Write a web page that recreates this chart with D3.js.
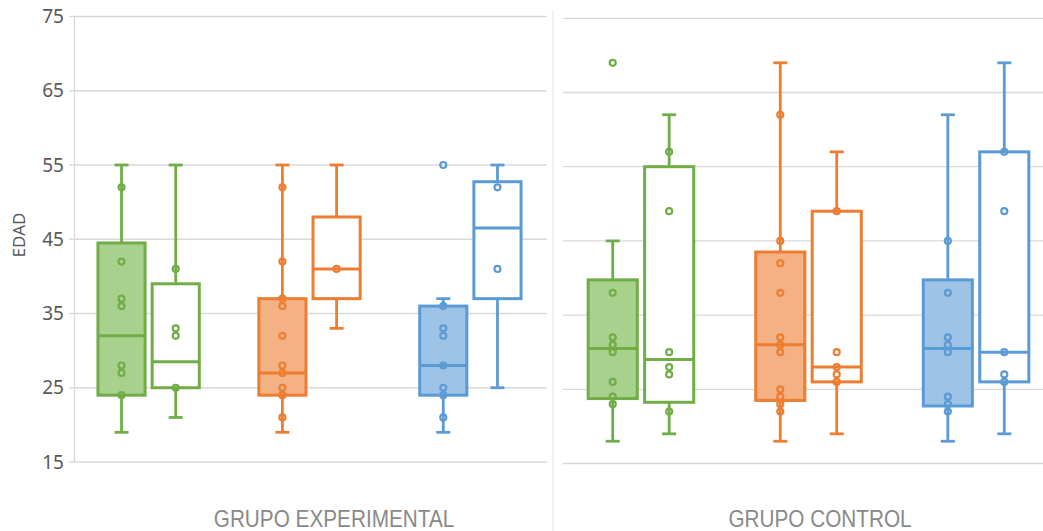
<!DOCTYPE html>
<html lang="es">
<head>
<meta charset="utf-8">
<script src="https://cdn.jsdelivr.net/npm/d3@7"></script>
<style>
  html, body { margin: 0; padding: 0; background: #ffffff; }
  svg { display: block; }
</style>
</head>
<body>
<svg id="chart" width="1043" height="531"></svg>
<script>
// Groups shown along the bottom, one panel each
const panels = ["GRUPO EXPERIMENTAL", "GRUPO CONTROL"];
// Three colour series per panel, each with a filled and an outline box
const series = ["verde", "naranja", "azul"];
const kinds = ["relleno", "contorno"];
const yTicks = [15, 25, 35, 45, 55, 65, 75];

// Box statistics, in the order panel -> series -> kind
const boxPanel  = [0, 0, 0, 0, 0, 0, 1, 1, 1, 1, 1, 1];
const boxSeries = [0, 0, 1, 1, 2, 2, 0, 0, 1, 1, 2, 2];
const boxKind   = [0, 1, 0, 1, 0, 1, 0, 1, 0, 1, 0, 1];
const whiskerLow  = [19, 21, 19, 33, 19, 25, 18, 19, 18, 19, 18, 19];
const quartile1   = [24, 25, 24, 37, 24, 37, 23.75, 23.25, 23.5, 26, 22.75, 26];
const medians     = [32, 28.5, 27, 41, 28, 46.5, 30.5, 29, 31, 28, 30.5, 30];
const quartile3   = [44.5, 39, 37, 48, 36, 52.75, 39.75, 55, 43.5, 49, 39.75, 57];
const whiskerHigh = [55, 55, 55, 55, 37, 55, 45, 62, 69, 57, 62, 69];
const innerPoints = [
  [52, 42, 37, 36, 28, 27, 24],
  [41, 33, 32, 25],
  [52, 42, 37, 36, 32, 28, 27, 25, 24, 21],
  [41],
  [36, 33, 32, 28, 25, 24, 21],
  [52, 41],
  [38, 32, 31, 30, 26, 24, 23],
  [57, 49, 30, 28, 27, 22],
  [62, 45, 42, 38, 32, 31, 30, 25, 24, 23, 22],
  [49, 30, 28, 27, 26],
  [45, 38, 32, 31, 30, 24, 23, 22],
  [57, 49, 30, 27, 26]
];
const outliers = [[], [], [], [], [55], [], [69], [], [], [], [], []];

const strokeColours = ["#70ad47", "#ed7d31", "#5b9bd5"];
const fillColours   = ["#a9d18e", "#f4b183", "#9dc3e6"];

const svg = d3.select("#chart");

// Per-panel horizontal ranges and vertical pixel ranges
const panelRange = [[69, 550], [558, 1059]];
const panelY = [[462, 16.5], [463.5, 18.3]];
const gridSpan = [[69, 547], [563, 1043]];
const labelX = [334, 820];

const yScales = panelY.map(r => d3.scaleLinear().domain([15, 75]).range(r));
const xOuter = panelRange.map(r =>
  d3.scaleBand().domain(series).range(r).paddingInner(0.37).paddingOuter(0.18));
const xInner = xOuter.map(s =>
  d3.scaleBand().domain(kinds).range([0, s.bandwidth()]).paddingInner(0.13).paddingOuter(0));

// Gridlines
panels.forEach((p, i) => {
  svg.append("g")
    .selectAll("line")
    .data(yTicks)
    .join("line")
    .attr("x1", gridSpan[i][0])
    .attr("x2", gridSpan[i][1])
    .attr("y1", d => yScales[i](d))
    .attr("y2", d => yScales[i](d))
    .attr("stroke", "#d9d9d9")
    .attr("stroke-width", 1.3);
});

// Left value axis line and tick labels
svg.append("line")
  .attr("x1", 74.5).attr("x2", 74.5)
  .attr("y1", yScales[0](75)).attr("y2", yScales[0](15))
  .attr("stroke", "#d9d9d9").attr("stroke-width", 1.3);

const yAxis = d3.axisLeft(yScales[0]).tickValues(yTicks).tickSize(0).tickPadding(0);
const axisG = svg.append("g").attr("transform", "translate(64,0)").call(yAxis);
axisG.select(".domain").remove();
axisG.selectAll("text")
  .attr("fill", "#595959")
  .style("font-family", "'Noto Sans', sans-serif")
  .style("font-size", "19px");

svg.append("text")
  .attr("transform", "translate(25,235) rotate(-90)")
  .attr("text-anchor", "middle")
  .attr("fill", "#595959")
  .style("font-family", "'Noto Sans', sans-serif")
  .style("font-size", "17px")
  .text("EDAD");

// Separator between the two panels
svg.append("line")
  .attr("x1", 553).attr("x2", 553)
  .attr("y1", 11).attr("y2", 531)
  .attr("stroke", "#ebebeb").attr("stroke-width", 1.5);

// Category labels, horizontally condensed
svg.append("g")
  .selectAll("text")
  .data(panels)
  .join("text")
  .attr("transform", (d, i) => `translate(${labelX[i]},527) scale(0.865,1)`)
  .attr("text-anchor", "middle")
  .attr("fill", "#898989")
  .style("font-family", "'Liberation Sans', Arial, sans-serif")
  .style("font-size", "24px")
  .text(d => d);

// Boxes
const boxes = boxPanel.map((p, i) => ({
  panel: p, s: boxSeries[i], k: boxKind[i],
  lo: whiskerLow[i], q1: quartile1[i], med: medians[i], q3: quartile3[i], hi: whiskerHigh[i],
  pts: innerPoints[i], out: outliers[i]
}));

const capHalf = 7;
const bg = svg.append("g");
boxes.forEach(b => {
  const y = yScales[b.panel];
  const x0 = xOuter[b.panel](series[b.s]) + xInner[b.panel](kinds[b.k]);
  const w = xInner[b.panel].bandwidth();
  const cx = x0 + w / 2;
  const stroke = strokeColours[b.s];
  const g = bg.append("g");

  // whiskers
  g.append("line").attr("x1", cx).attr("x2", cx).attr("y1", y(b.hi)).attr("y2", y(b.q3))
    .attr("stroke", stroke).attr("stroke-width", 2.8);
  g.append("line").attr("x1", cx).attr("x2", cx).attr("y1", y(b.q1)).attr("y2", y(b.lo))
    .attr("stroke", stroke).attr("stroke-width", 2.8);
  [b.hi, b.lo].forEach(v => {
    g.append("line").attr("x1", cx - capHalf).attr("x2", cx + capHalf)
      .attr("y1", y(v)).attr("y2", y(v))
      .attr("stroke", stroke).attr("stroke-width", 2.8);
  });

  // box body
  g.append("rect")
    .attr("x", x0).attr("width", w)
    .attr("y", y(b.q3)).attr("height", y(b.q1) - y(b.q3))
    .attr("fill", b.k === 0 ? fillColours[b.s] : "#ffffff")
    .attr("stroke", stroke).attr("stroke-width", 3);

  // median
  g.append("line").attr("x1", x0).attr("x2", x0 + w)
    .attr("y1", y(b.med)).attr("y2", y(b.med))
    .attr("stroke", stroke).attr("stroke-width", 3);

  // inner points and outliers
  g.selectAll("circle")
    .data(b.pts.concat(b.out))
    .join("circle")
    .attr("cx", cx).attr("cy", d => y(d)).attr("r", 3)
    .attr("fill", "none").attr("stroke", stroke).attr("stroke-width", 2.2);
});
</script>
</body>
</html>
